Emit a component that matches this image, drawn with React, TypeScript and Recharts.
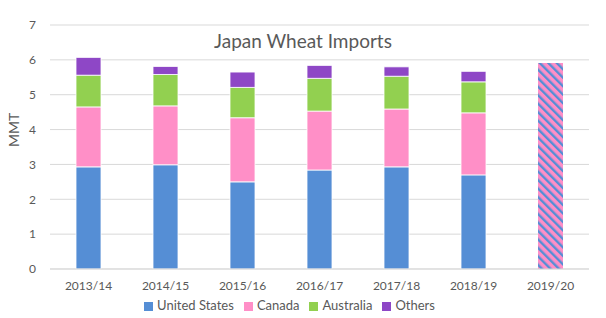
import React from 'react';
import { BarChart, Bar, XAxis, YAxis, CartesianGrid, Legend } from 'recharts';

const years = ['2013/14', '2014/15', '2015/16', '2016/17', '2017/18', '2018/19', '2019/20'];
const unitedStates = [2.93, 2.99, 2.5, 2.84, 2.93, 2.7, null];
const canada = [1.72, 1.69, 1.84, 1.69, 1.66, 1.78, null];
const australia = [0.91, 0.9, 0.87, 0.94, 0.94, 0.89, null];
const others = [0.51, 0.23, 0.44, 0.37, 0.27, 0.3, null];
const projectedTotal = [null, null, null, null, null, null, 5.91];
const yTicks = [0, 1, 2, 3, 4, 5, 6, 7];

const data = years.map((year, i) => ({
  year,
  us: unitedStates[i],
  canada: canada[i],
  australia: australia[i],
  others: others[i],
  total: projectedTotal[i],
}));

const FONT = 'Lato, "Open Sans", sans-serif';
const TEXT = '#595959';
const GRID = '#d9d9d9';

export default function App() {
  return (
    <div style={{ position: 'relative', width: 606, height: 318, fontFamily: FONT, background: '#fff' }}>
      <style>{'body { margin: 0; }'}</style>
      <div
        style={{
          position: 'absolute',
          top: 29,
          left: 0,
          width: 606,
          textAlign: 'center',
          fontSize: 19,
          color: TEXT,
          zIndex: 1,
          pointerEvents: 'none',
        }}
      >
        Japan Wheat Imports
      </div>
      <BarChart width={606} height={318} data={data} margin={{ top: 25, right: 17, left: 0, bottom: 0 }} barSize={25}>
        <defs>
          <pattern id="hatch" patternUnits="userSpaceOnUse" width="6" height="6" patternTransform="rotate(-45)">
            <rect width="6" height="6" fill="#ff8fc7" />
            <rect width="2.4" height="6" fill="#558ed5" />
          </pattern>
        </defs>
        <CartesianGrid vertical={false} stroke={GRID} />
        <XAxis
          dataKey="year"
          height={29}
          tickLine={false}
          tickMargin={6}
          axisLine={{ stroke: GRID }}
          tick={{ fontSize: 12, fill: TEXT, fontFamily: FONT }}
        />
        <YAxis
          width={50}
          domain={[0, 7]}
          ticks={yTicks}
          interval={0}
          axisLine={false}
          tickLine={false}
          tickMargin={8}
          tick={{ fontSize: 12, fill: TEXT, fontFamily: FONT }}
          label={{ value: 'MMT', angle: -90, position: 'insideLeft', offset: 14, fill: TEXT, fontSize: 14, fontFamily: FONT }}
        />
        <Legend
          verticalAlign="bottom"
          height={20}
          iconType="square"
          iconSize={9}
          itemSorter={null}
          wrapperStyle={{ fontSize: 13, color: TEXT, fontFamily: FONT, bottom: 1 }}
          formatter={(value: string) => <span style={{ color: TEXT }}>{value}</span>}
        />
        <Bar dataKey="us" name="United States" stackId="a" fill="#558ed5" stroke="#fff" strokeWidth={0.8} isAnimationActive={false} />
        <Bar dataKey="canada" name="Canada" stackId="a" fill="#ff8fc7" stroke="#fff" strokeWidth={0.8} isAnimationActive={false} />
        <Bar dataKey="australia" name="Australia" stackId="a" fill="#92d050" stroke="#fff" strokeWidth={0.8} isAnimationActive={false} />
        <Bar dataKey="others" name="Others" stackId="a" fill="#8e47c6" stroke="#fff" strokeWidth={0.8} isAnimationActive={false} />
        <Bar dataKey="total" name="2019/20" stackId="a" fill="url(#hatch)" legendType="none" isAnimationActive={false} />
      </BarChart>
    </div>
  );
}
